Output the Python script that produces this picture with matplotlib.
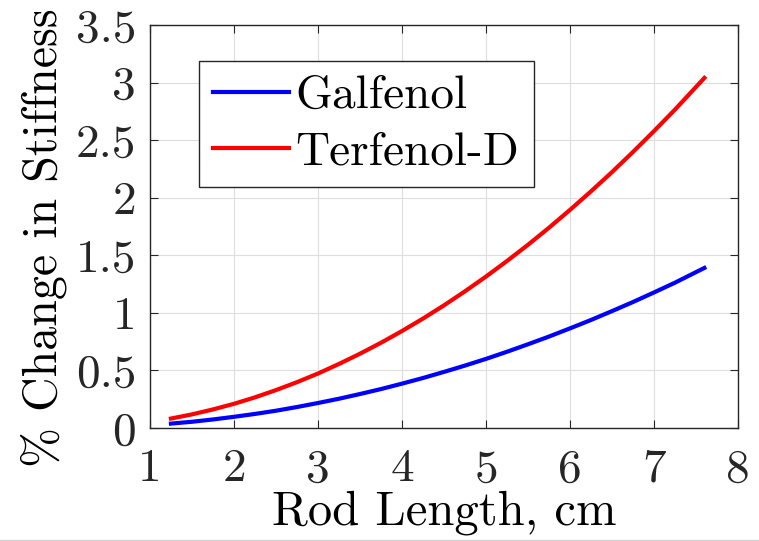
import matplotlib
matplotlib.use("Agg")
import matplotlib.pyplot as plt
from matplotlib.lines import Line2D

# Data
rod_length = [1.25, 1.5, 1.75, 2.0, 2.25, 2.5, 2.75, 3.0, 3.25, 3.5, 3.75, 4.0, 4.25, 4.5, 4.75,
              5.0, 5.25, 5.5, 5.75, 6.0, 6.25, 6.5, 6.75, 7.0, 7.25, 7.6]
galfenol = [0.038, 0.054, 0.074, 0.097, 0.122, 0.150, 0.182, 0.217, 0.254, 0.295, 0.338, 0.385,
            0.434, 0.487, 0.542, 0.600, 0.662, 0.727, 0.794, 0.865, 0.938, 1.015, 1.094, 1.177,
            1.262, 1.390]
terfenol = [0.082, 0.118, 0.161, 0.210, 0.266, 0.329, 0.398, 0.473, 0.556, 0.645, 0.740, 0.842,
            0.950, 1.065, 1.187, 1.315, 1.450, 1.591, 1.739, 1.894, 2.055, 2.222, 2.397, 2.578,
            2.765, 3.040]

x_ticks = [1, 2, 3, 4, 5, 6, 7, 8]
x_tick_labels = ["1", "2", "3", "4", "5", "6", "7", "8"]
y_ticks = [0, 0.5, 1, 1.5, 2, 2.5, 3, 3.5]
y_tick_labels = ["0", "0.5", "1", "1.5", "2", "2.5", "3", "3.5"]

plt.rcParams["font.family"] = ["cmr10", "DejaVu Serif"]
plt.rcParams["axes.formatter.use_mathtext"] = True

dark = "#262626"
fig = plt.figure(figsize=(7.59, 5.41), dpi=100)
ax = fig.add_axes([0.1976, 0.2089, 0.7747, 0.7449])

ax.plot(rod_length, galfenol, color="#0000ff", lw=3, label="Galfenol")
ax.plot(rod_length, terfenol, color="#ff0000", lw=3, label="Terfenol-D")

ax.set_xlim(1, 8)
ax.set_ylim(0, 3.5)
ax.set_xticks(x_ticks)
ax.set_xticklabels(x_tick_labels)
ax.set_yticks(y_ticks)
ax.set_yticklabels(y_tick_labels)

ax.grid(True, color="#dedede", lw=0.8)
ax.set_axisbelow(True)
for s in ax.spines.values():
    s.set_color(dark)
    s.set_linewidth(1.0)
ax.tick_params(axis="both", direction="in", length=6, width=0.8, color=dark,
               labelcolor=dark, labelsize=34, top=True, right=True)
ax.tick_params(axis="x", pad=15)
ax.tick_params(axis="y", pad=10)

ax.set_xlabel("Rod Length, cm", fontsize=35, color="black", labelpad=0)
ax.set_ylabel("% Change in Stiffness", fontsize=34.5, color="black", labelpad=6)
ax.yaxis.label.set_y(0.473)

leg = ax.legend(loc="upper left", bbox_to_anchor=(0.083, 0.911), borderaxespad=0,
                fontsize=34, frameon=True, fancybox=False, framealpha=1,
                handlelength=1.6, handletextpad=0.15, borderpad=0.3, labelspacing=0.3)
leg.get_frame().set_edgecolor(dark)
leg.get_frame().set_linewidth(1.0)

fig.add_artist(Line2D([0, 1], [1.5 / 541, 1.5 / 541], transform=fig.transFigure,
                      color="#d4d4d4", lw=1))

fig.savefig("out.png", dpi=100)
